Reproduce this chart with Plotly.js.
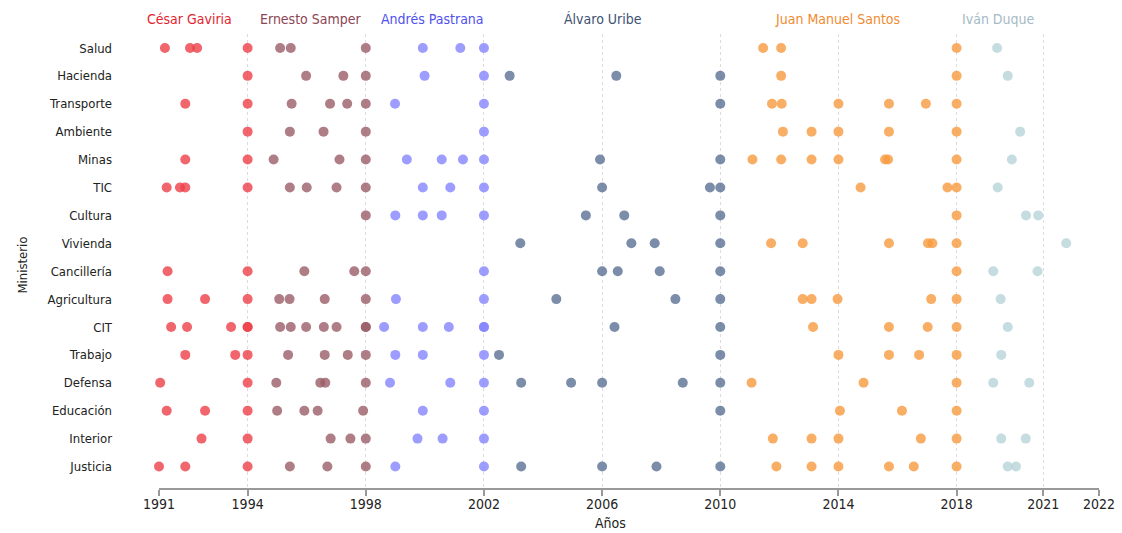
<!DOCTYPE html>
<html>
<head>
<meta charset="utf-8">
<script src="https://cdn.plot.ly/plotly-3.0.1.min.js"></script>
<style>html,body{margin:0;padding:0;background:#fff;}#chart{width:1122px;height:533px;}</style>
</head>
<body>
<div id="chart"></div>
<script>
// Ministries, top to bottom
const ministerios = ["Salud","Hacienda","Transporte","Ambiente","Minas","TIC","Cultura","Vivienda",
  "Cancillería","Agricultura","CIT","Trabajo","Defensa","Educación","Interior","Justicia"];

// Presidents, their term end year and label positions
const presidentes = ["César Gaviria","Ernesto Samper","Andrés Pastrana","Álvaro Uribe","Juan Manuel Santos","Iván Duque"];
const finPeriodo = [1994, 1998, 2002, 2010, 2018, 2022];
const labelYear = [1992.02, 1996.13, 2000.26, 2006.02, 2013.97, 2019.41];

// Years of minister changes per ministry
const salud = [1991.20,1992.05,1992.29,1994.0,1995.10,1995.46,1998.0,1999.93,2001.20,2002.0,2011.45,2012.06,2018.0,2019.37];
const hacienda = [1994.0,1995.98,1997.24,1998.0,1999.99,2002.0,2002.87,2006.48,2010.0,2012.06,2018.0,2019.73];
const transporte = [1991.89,1994.0,1995.49,1996.79,1997.37,1998.0,1998.99,2002.0,2010.0,2011.75,2012.08,2014.0,2015.71,2016.96,2018.0];
const ambiente = [1994.0,1995.43,1996.57,1998.0,2002.0,2012.12,2013.09,2014.0,2015.71,2018.0,2020.15];
const minas = [1991.89,1994.0,1994.88,1997.11,1998.0,1999.39,2000.57,2001.29,2002.0,2005.93,2010.0,2011.09,2012.06,2013.09,2014.0,2015.58,2015.68,2018.0,2019.87];
const tic = [1991.26,1991.71,1991.89,1994.0,1995.43,1996.0,1997.01,1998.0,1999.93,2000.86,2002.0,2006.0,2009.65,2010.0,2014.75,2017.69,2018.0,2019.39];
const cultura = [1998.0,1999.0,1999.93,2000.57,2002.0,2005.45,2006.75,2010.0,2018.0,2020.35,2020.76];
const vivienda = [2003.23,2006.99,2007.78,2010.0,2011.72,2012.79,2015.71,2017.03,2017.18,2018.0,2021.71];
const cancilleria = [1991.29,1994.0,1995.92,1997.61,1998.0,2002.0,2006.0,2006.53,2007.95,2010.0,2018.0,2019.24,2020.74];
const agricultura = [1991.29,1992.56,1994.0,1995.07,1995.42,1996.61,1998.0,1999.02,2002.0,2004.45,2008.48,2010.0,2012.79,2013.09,2013.97,2017.14,2018.0,2019.49];
const cit = [1991.41,1991.95,1993.44,1994.0,1994.0,1995.10,1995.46,1995.98,1996.58,1997.01,1998.0,1998.0,1998.62,1999.93,2000.81,2002.0,2002.0,2006.42,2010.0,2013.14,2015.71,2017.02,2018.0,2019.73];
const trabajo = [1991.89,1993.58,1994.0,1995.37,1996.61,1997.39,1998.0,1999.0,1999.93,2002.0,2002.51,2010.0,2014.0,2015.71,2016.73,2018.0,2019.51];
const defensa = [1991.04,1994.0,1994.97,1996.46,1996.63,1998.0,1998.82,2000.86,2002.0,2003.26,2004.95,2006.0,2008.73,2010.0,2011.06,2014.85,2018.0,2019.24,2020.46];
const educacion = [1991.26,1992.56,1994.0,1995.0,1995.92,1996.37,1997.91,1999.93,2002.0,2010.0,2014.05,2016.15,2018.0];
const interior = [1992.44,1994.0,1996.81,1997.48,1998.0,1999.75,2000.60,2002.0,2011.78,2013.09,2014.0,2016.79,2018.0,2019.51,2020.34];
const justicia = [1991.0,1991.89,1994.0,1995.43,1996.70,1998.0,1999.0,2002.0,2003.26,2006.0,2007.84,2010.0,2011.90,2013.09,2014.0,2015.71,2016.55,2018.0,2019.73,2020.01];

const cambios = [salud,hacienda,transporte,ambiente,minas,tic,cultura,vivienda,cancilleria,agricultura,cit,trabajo,defensa,educacion,interior,justicia];

// Axis ticks
const tickVals = [1991,1994,1998,2002,2006,2010,2014,2018,2020.93,2022.82];
const tickText = ["1991","1994","1998","2002","2006","2010","2014","2018","2021","2022"];

// Styles
const markerColors = ["#ee4048","#9a5c66","#8585ff","#5a7194","#f79a40","#b6d3d8"];
const textColors = ["#e3242e","#8c4652","#5050ee","#3e5272","#f08a30","#a4bac6"];
const FONT = "'DejaVu Sans Condensed', 'DejaVu Sans', sans-serif";

// Build one trace per president
const traces = presidentes.map((p) => ({x: [], y: [], name: p}));
cambios.forEach((arr, m) => {
  arr.forEach(yr => {
    const idx = finPeriodo.findIndex(end => yr <= end + 1e-9);
    traces[idx].x.push(yr);
    traces[idx].y.push(ministerios[m]);
  });
});
const data = traces.map((t, i) => ({
  type: 'scatter', mode: 'markers', x: t.x, y: t.y, name: t.name,
  cliponaxis: false, hoverinfo: 'x+y+name',
  marker: {size: 10, color: markerColors[i], opacity: 0.8, line: {width: 0}}
}));

const annotations = presidentes.map((p, i) => ({
  x: labelYear[i], y: 1, xref: 'x', yref: 'paper', yanchor: 'bottom', xanchor: 'center',
  yshift: 5, text: p, showarrow: false,
  font: {family: FONT, size: 14, color: textColors[i]}
}));
annotations.push({x: -0.1457, y: 0.49, xref: 'paper', yref: 'paper', xanchor: 'center', yanchor: 'middle',
  text: 'Ministerio', textangle: -90, showarrow: false, font: {family: FONT, size: 13, color: '#222'}});
annotations.push({x: 2006.3, y: 0, xref: 'x', yref: 'paper', xanchor: 'center', yanchor: 'top', yshift: -25,
  text: 'Años', showarrow: false, font: {family: FONT, size: 14, color: '#222'}});

const layout = {
  width: 1122, height: 533,
  margin: {l: 159, r: 23, t: 34, b: 45},
  paper_bgcolor: '#fff', plot_bgcolor: '#fff',
  showlegend: false,
  font: {family: FONT, size: 13, color: '#222'},
  xaxis: {
    range: [1991, 2022.82], tickmode: 'array', tickvals: tickVals, ticktext: tickText,
    showline: true, linecolor: '#999', linewidth: 2, ticks: 'outside', ticklen: 6, tickcolor: '#999', tickwidth: 1.5,
    ticklabelstandoff: -4,
    showgrid: true, gridcolor: '#dcdcdc', griddash: 'dot', gridwidth: 1, zeroline: false,
    tickfont: {family: FONT, size: 14, color: '#222'}
  },
  yaxis: {
    type: 'category', categoryorder: 'array', categoryarray: ministerios,
    range: [15.77, -0.5], showgrid: false, zeroline: false, showline: false, ticks: '',
    ticklabelstandoff: 46, tickfont: {family: FONT, size: 13, color: '#222'}
  },
  annotations: annotations
};

Plotly.newPlot('chart', data, layout, {displayModeBar: false});
</script>
</body>
</html>
